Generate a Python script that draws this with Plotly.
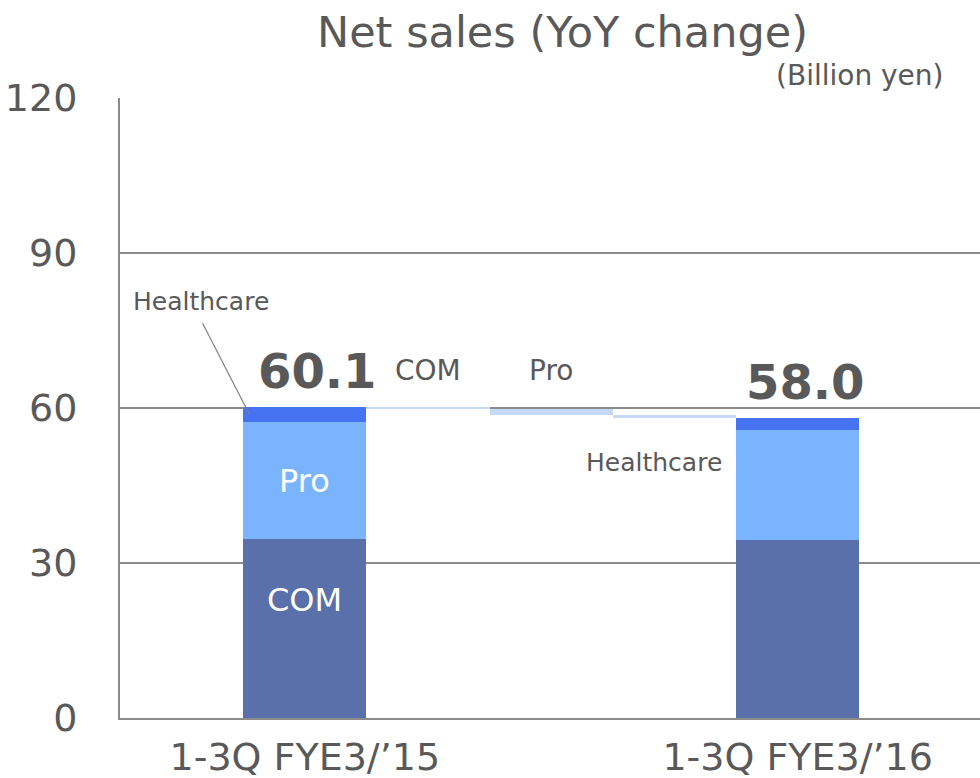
import plotly.graph_objects as go

categories = ["1-3Q FYE3/’15", "COM", "Pro", "Healthcare", "1-3Q FYE3/’16"]
segments = ["COM", "Pro", "Healthcare"]
seg_2015 = [34.6, 22.6, 2.9]
seg_2016 = [34.4, 21.3, 2.3]
totals = [60.1, 58.0]
changes = [-0.2, -1.3, -0.6]
y_ticks = [0, 30, 60, 90, 120]

seg_colors = {"COM": "#5A70AA", "Pro": "#7AB4FF", "Healthcare": "#4573F2"}
change_color = "#C8D8F7"
txt = "#595959"
FONT = "DejaVu Sans"

W, H = 980, 778
ML, MT, MB = 120, 98, 60
PW, PH = W - ML, H - MT - MB

xpos = list(range(len(categories)))
fig = go.Figure()

for i, seg in enumerate(segments):
    bases = [sum(seg_2015[:i]), sum(seg_2016[:i])]
    fig.add_trace(go.Bar(
        x=[xpos[0], xpos[4]], y=[seg_2015[i], seg_2016[i]], base=bases,
        width=1.0, marker=dict(color=seg_colors[seg], line=dict(width=0)),
        showlegend=False, hoverinfo="skip"))

level = totals[0]
wx, wy, wb = [], [], []
for k, ch in enumerate(changes):
    wx.append(xpos[k + 1])
    wy.append(abs(ch))
    wb.append(level + ch if ch < 0 else level)
    level += ch
fig.add_trace(go.Bar(x=wx, y=wy, base=wb, width=1.0,
                     marker=dict(color=change_color, line=dict(width=0)),
                     showlegend=False, hoverinfo="skip"))

fig.update_layout(
    width=W, height=H, barmode="overlay",
    margin=dict(l=ML, r=0, t=MT, b=MB, pad=0),
    plot_bgcolor="white", paper_bgcolor="white",
    font=dict(family=FONT, color=txt),
    xaxis=dict(range=[-1.5, 5.48], tickvals=[xpos[0], xpos[4]],
               ticktext=[categories[0], categories[4]],
               tickfont=dict(size=38, color=txt), showgrid=False,
               showline=True, linecolor="#8C8C8C", linewidth=2, ticks="",
               zeroline=False, ticklabelstandoff=4),
    yaxis=dict(range=[0, 120], tickvals=y_ticks, tickfont=dict(size=38, color=txt),
               showgrid=True, gridcolor="#8C8C8C", gridwidth=1.5,
               showline=True, linecolor="#8C8C8C", linewidth=2, ticks="",
               zeroline=False, ticklabelstandoff=33),
    bargap=0,
)

def px_to_paper(xp, yp):
    return (xp - ML) / PW, 1 - (yp - MT) / PH

tx, ty = px_to_paper(562, 32)
fig.add_annotation(text="Net sales (YoY change)", xref="paper", yref="paper",
                   x=tx, y=ty, showarrow=False,
                   font=dict(size=43, color=txt), xanchor="center", yanchor="middle")
bx, by = px_to_paper(946, 75)
fig.add_annotation(text="(Billion yen)", xref="paper", yref="paper",
                   x=bx, y=by, showarrow=False,
                   font=dict(size=28, color=txt), xanchor="right", yanchor="middle")
for xi, t, off in zip([xpos[0], xpos[4]], totals, [0.1, 0.06]):
    fig.add_annotation(text=f"<b>{t:.1f}</b>", x=xi + off, y=t, yanchor="bottom",
                       yshift=6, showarrow=False, font=dict(size=48, color=txt))
fig.add_annotation(text="COM", x=xpos[1], y=totals[0], yanchor="bottom", yshift=18,
                   showarrow=False, font=dict(size=28, color=txt))
fig.add_annotation(text="Pro", x=xpos[2], y=totals[0], yanchor="bottom", yshift=18,
                   showarrow=False, font=dict(size=28, color=txt))
fig.add_annotation(text="Healthcare", x=xpos[3] - 0.17, y=totals[1], yanchor="top",
                   yshift=-28, showarrow=False, font=dict(size=25, color=txt))
fig.add_annotation(text="Pro", x=xpos[0], y=seg_2015[0] + seg_2015[1] / 2, showarrow=False,
                   font=dict(size=32, color="white"))
fig.add_annotation(text="COM", x=xpos[0], y=seg_2015[0] * 0.66, showarrow=False,
                   font=dict(size=32, color="white"))
# Healthcare callout with leader line
hx, hy = xpos[0] - 0.45, sum(seg_2015) - 1.3
fig.add_annotation(text="Healthcare", x=hx - 0.39, y=hy + 21.9, showarrow=False,
                   font=dict(size=25, color=txt))
fig.add_shape(type="line", x0=hx, y0=hy, x1=hx - 0.38, y1=hy + 17.6,
              line=dict(color="#808080", width=1.2))

fig.write_html("out.html", config={"displayModeBar": False},
               post_script="document.body.style.margin='0';")
